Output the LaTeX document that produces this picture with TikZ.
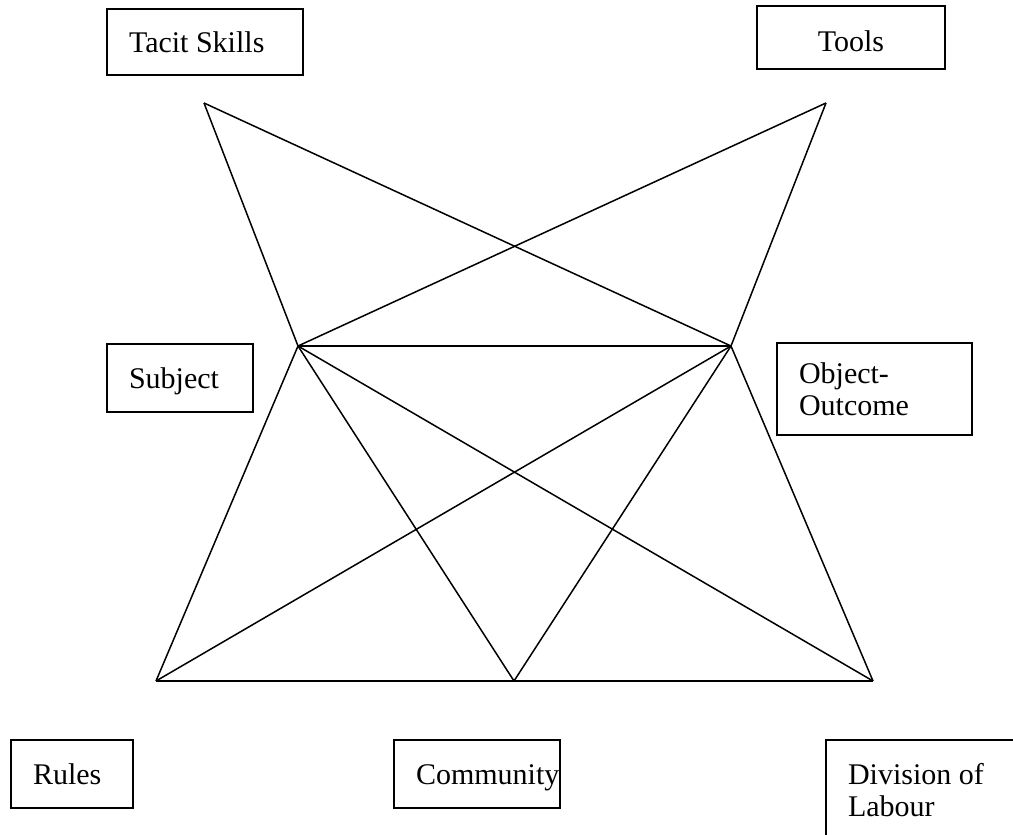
\documentclass[tikz,border=0pt]{standalone}
\usepackage{fontspec}
\setmainfont{Liberation Serif}
\newcommand{\boxlbl}[2]{\hspace*{11pt}\makebox[\dimexpr #1-11pt\relax][l]{\raisebox{-2pt}[\height][\depth]{\begin{tabular}{@{}l@{}}#2\end{tabular}}}}
\begin{document}
\begin{tikzpicture}[x=0.5pt,y=-0.5pt,
  box/.style={draw, line width=0.8pt, inner sep=0pt,
    font=\fontsize{15}{16}\selectfont},
  edge/.style={line width=0.75pt}]
\useasboundingbox (0,0) rectangle (1013,835);
\clip (0,0) rectangle (1013,835);
% boxes
\node[box, minimum width=98pt, minimum height=33pt] (tacit) at (205,42) {\boxlbl{98pt}{Tacit Skills}};
\node[box, minimum width=94pt, minimum height=31.5pt] (tools) at (851,37.5) {\raisebox{-2pt}[\height][\depth]{Tools}};
\node[box, minimum width=73pt, minimum height=34pt] (subject) at (180,378) {\boxlbl{73pt}{Subject}};
\node[box, minimum width=97.5pt, minimum height=46pt] (object) at (874.5,389) {\boxlbl{97.5pt}{Object-\\Outcome}};
\node[box, minimum width=61pt, minimum height=34pt] (rules) at (72,774) {\boxlbl{61pt}{Rules}};
\node[box, minimum width=83pt, minimum height=34pt] (community) at (477,774) {\boxlbl{83pt}{Community}};
\node[box, minimum width=102pt, minimum height=50pt] (division) at (928,790) {\boxlbl{102pt}{Division of\\Labour}};
% vertices
\coordinate (A) at (204,103);
\coordinate (B) at (826,103);
\coordinate (C) at (298,346);
\coordinate (D) at (731,346);
\coordinate (E) at (156,681);
\coordinate (F) at (514,681);
\coordinate (G) at (873,681);
% lines
\draw[edge] (A) -- (C);
\draw[edge] (A) -- (D);
\draw[edge] (B) -- (C);
\draw[edge] (B) -- (D);
\draw[edge] (C) -- (D);
\draw[edge] (C) -- (E);
\draw[edge] (C) -- (F);
\draw[edge] (C) -- (G);
\draw[edge] (D) -- (E);
\draw[edge] (D) -- (F);
\draw[edge] (D) -- (G);
\draw[edge] (E) -- (F);
\draw[edge] (F) -- (G);
\end{tikzpicture}
\end{document}
